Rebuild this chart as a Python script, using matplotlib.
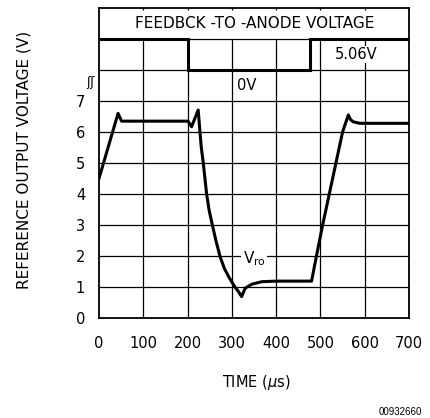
import numpy as np
import matplotlib.pyplot as plt

# reference output voltage (V) vs time (us)
t_us = [0, 43, 51, 201, 209, 224, 228, 231, 235.5, 243, 249, 256, 264, 273, 283, 294,
        307, 315, 322, 330, 345, 367, 400, 480, 491, 505, 520, 535, 550, 563, 568,
        574, 589, 700]
v_ro = [4.5, 6.6, 6.35, 6.35, 6.17, 6.71, 6.0, 5.5, 5.0, 4.0, 3.45, 3.0, 2.5, 2.0, 1.6,
        1.3, 1.0, 0.85, 0.69, 0.96, 1.09, 1.17, 1.19, 1.19, 2.0, 3.0, 4.0, 5.0, 6.0, 6.55,
        6.4, 6.33, 6.28, 6.28]

# feedback-to-anode step (drawn in the top band, high=9, low=8 grid rows)
fb_t = [0, 200, 200, 476, 476, 700]
fb_level = [9, 9, 8, 8, 9, 9]

x_ticks = [0, 100, 200, 300, 400, 500, 600, 700]
y_ticks = [0, 1, 2, 3, 4, 5, 6, 7]

font = 'DejaVu Sans'
fs = 10.5

fig = plt.figure(figsize=(4.31, 4.18), dpi=100)
ax = fig.add_axes([99 / 431, 1 - 318 / 418, 310 / 431, 310 / 418])
ax.set_xlim(0, 700)
ax.set_ylim(0, 10)

# grid: horizontal rows 1..9, vertical lines only below the title band
for yy in range(1, 10):
    ax.axhline(yy, color='black', lw=0.9, zorder=1)
for xx in x_ticks[1:-1]:
    ax.vlines(xx, 0, 9, color='black', lw=0.9, zorder=1)
    ax.vlines(xx, 9.93, 10, color='black', lw=0.9, zorder=1)

ax.plot(t_us, v_ro, color='black', lw=2.2, solid_joinstyle='round', zorder=3)
ax.plot(fb_t, fb_level, color='black', lw=2.2, solid_joinstyle='miter', zorder=3)

for sp in ax.spines.values():
    sp.set_linewidth(1.3)

ax.set_xticks(x_ticks)
ax.set_yticks(y_ticks)
ax.tick_params(length=0, labelsize=fs)
ax.tick_params(axis='x', pad=13)
ax.tick_params(axis='y', pad=10)
for lab in ax.get_xticklabels() + ax.get_yticklabels():
    lab.set_family(font)

box = dict(facecolor='white', edgecolor='none', pad=1)
ax.text(352, 9.5, 'FEEDBCK -TO -ANODE VOLTAGE', ha='center', va='center',
        fontsize=11, family=font)
ax.text(334, 7.5, '0V', ha='center', va='center', fontsize=fs, family=font,
        bbox=box, zorder=2)
ax.text(580, 8.5, '5.06V', ha='center', va='center', fontsize=fs, family=font,
        bbox=box, zorder=2)
ax.text(350, 1.9, r'$\mathregular{V_{ro}}$', ha='center', va='center',
        fontsize=11, family=font, bbox=box, zorder=2)

# axis break mark next to the 7 V label
ax.text(-20, 7.6, 'ʃʃ', ha='center', va='center', fontsize=9, family=font,
        clip_on=False)

fig.text(24 / 431, 1 - 160 / 418, 'REFERENCE OUTPUT VOLTAGE (V)', rotation=90,
         ha='center', va='center', fontsize=11, family=font)
fig.text(256 / 431, 1 - 382 / 418, r'TIME ($\mu$s)', ha='center', va='center',
         fontsize=fs, family=font)
fig.text(422 / 431, 1 - 412 / 418, '00932660', ha='right', va='center',
         fontsize=7, family='Liberation Sans')

fig.savefig('out.png', dpi=100)
